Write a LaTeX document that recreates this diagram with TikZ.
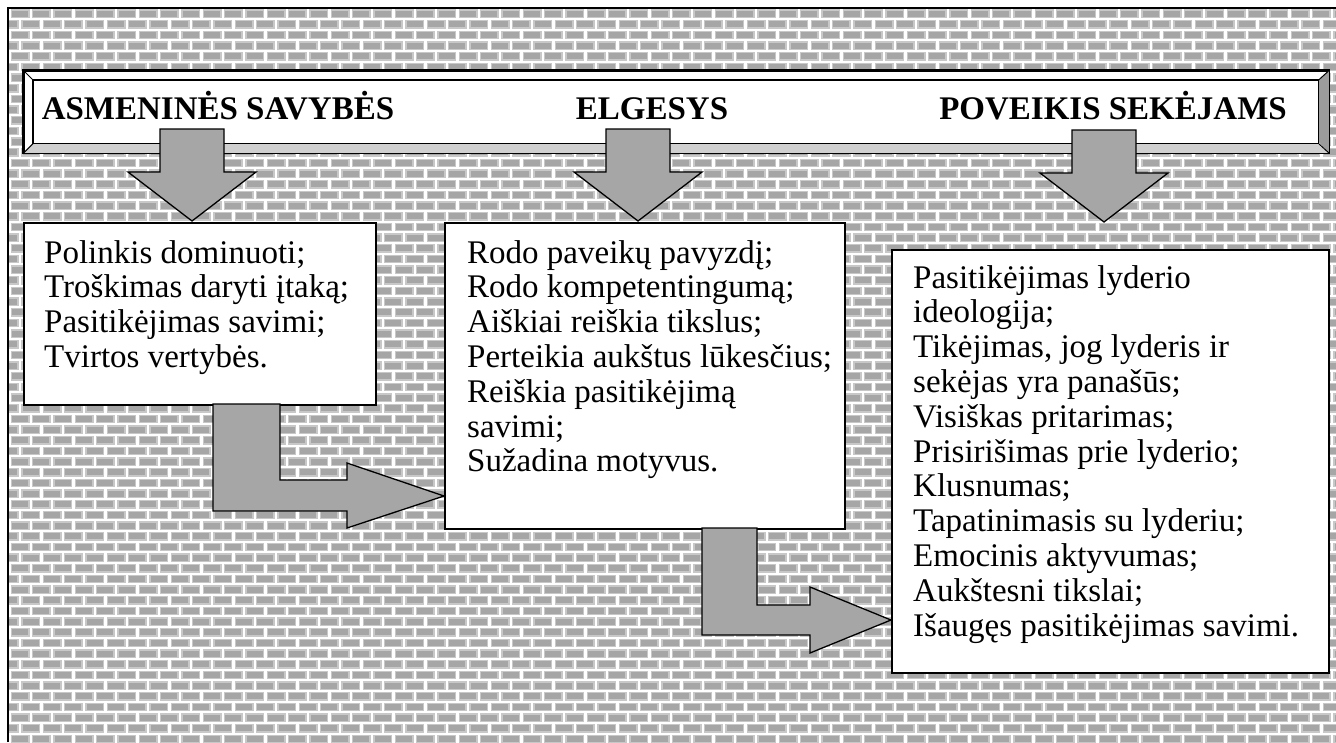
\documentclass[tikz,border=0pt]{standalone}
\usepackage{fontspec}
\setmainfont{Liberation Serif}
\usetikzlibrary{positioning, calc}

\definecolor{brickgray}{HTML}{A6A6A6}
\definecolor{brickedge}{HTML}{C8C8C8}
\definecolor{bevellight}{HTML}{D0D0D0}
\definecolor{beveldark}{HTML}{9C9C9C}

\begin{document}
\begin{tikzpicture}[
		x=1pt, y=-1pt,
		brick/.style={
			fill=brickgray, draw=brickedge, line width=1.4pt
		},
		block/.style={
			draw, line width=1.6pt, fill=white, inner sep=0pt, anchor=north west
		},
		heading/.style={
			font=\fontsize{33}{38}\selectfont\bfseries, anchor=base
		},
		body/.style={
			font=\fontsize{33}{34.8}\selectfont, align=left, anchor=north west, inner sep=0pt
		},
		fatarrow/.style={
			draw, line width=1.3pt, fill=brickgray, line join=miter
		},
		]
		\useasboundingbox (0,0) rectangle (1336,742);
		\fill[white] (0,0) rectangle (1336,742);
		
		% brick wall
		\begin{scope}
			\clip (9,9) rectangle (1336,742);
			\foreach \r in {0,...,69}{
				\pgfmathsetmacro\sh{mod(\r,2)*10.667-10}
				\foreach \c in {0,...,63}
					\path[brick] (\sh+\c*21.333, 10+\r*10.667) rectangle ++(17.5,7.2);
			}
		\end{scope}
		\draw[line width=2pt] (8,742) -- (8,8) -- (1336,8);
		
		% bevelled banner
		\node [block, minimum width=1305pt, minimum height=82pt] (banner) at (23,70) {};
		\fill[beveldark] (banner.north east) -- ++(-11,10) -- ++(0,62) -- (banner.south east) -- cycle;
		\fill[bevellight] (banner.south west) -- ++(10,-10) -- ++(1284,0) -- (banner.south east) -- cycle;
		\draw[line width=1.6pt] (banner.north west) rectangle (banner.south east);
		\draw[line width=1.6pt] ($(banner.north west)+(10,10)$) rectangle ($(banner.south east)+(-11,-10)$);
		\draw[line width=1pt] (banner.north west) -- ++(10,10) (banner.north east) -- ++(-11,10)
			(banner.south west) -- ++(10,-10) (banner.south east) -- ++(-11,-10);
		
		\node [heading] (hdr1) at (218,119) {ASMENINĖS SAVYBĖS};
		\node [heading] (hdr2) at (652,119) {ELGESYS};
		\node [heading] (hdr3) at (1113,119) {POVEIKIS SEKĖJAMS};
		
		% down arrows
		\coordinate (tip1) at (192,221);
		\coordinate (tip2) at (638,221);
		\coordinate (tip3) at (1104,222);
		\foreach \t in {tip1,tip2,tip3}
			\draw[fatarrow] (\t) -- ++(-64,-49) -- ++(32,0) -- ++(0,-43) -- ++(64,0) -- ++(0,43) -- ++(32,0) -- cycle;
		
		% boxes
		\node [block, minimum width=352pt, minimum height=182pt] (box1) at (23,222) {};
		\node [block, minimum width=400pt, minimum height=306pt] (box2) at (444,222) {};
		\node [block, minimum width=437pt, minimum height=423pt] (box3) at (891,249) {};
		
		% bent arrows
		\draw[fatarrow] (213,404) -- (280,404) -- (280,480) -- (347,480) -- (347,463)
			-- (444,496) -- (347,528) -- (347,511) -- (213,511) -- cycle;
		\draw[fatarrow] (702,528) -- (757,528) -- (757,605) -- (810,605) -- (810,587)
			-- (891,620) -- (810,653) -- (810,635) -- (702,635) -- cycle;
		
		% texts
		\node [body] (txt1) at ($(box1.north west)+(21,18)$) {Polinkis dominuoti;\\Troškimas daryti įtaką;\\Pasitikėjimas savimi;\\Tvirtos vertybės.};
		\node [body] (txt2) at ($(box2.north west)+(23,18)$) {Rodo paveikų pavyzdį;\\Rodo kompetentingumą;\\Aiškiai reiškia tikslus;\\Perteikia aukštus lūkesčius;\\Reiškia pasitikėjimą\\savimi;\\Sužadina motyvus.};
		\node [body] (txt3) at ($(box3.north west)+(22,16)$) {Pasitikėjimas lyderio\\ideologija;\\Tikėjimas, jog lyderis ir\\sekėjas yra panašūs;\\Visiškas pritarimas;\\Prisirišimas prie lyderio;\\Klusnumas;\\Tapatinimasis su lyderiu;\\Emocinis aktyvumas;\\Aukštesni tikslai;\\Išaugęs pasitikėjimas savimi.};
		
	\end{tikzpicture}
\end{document}
